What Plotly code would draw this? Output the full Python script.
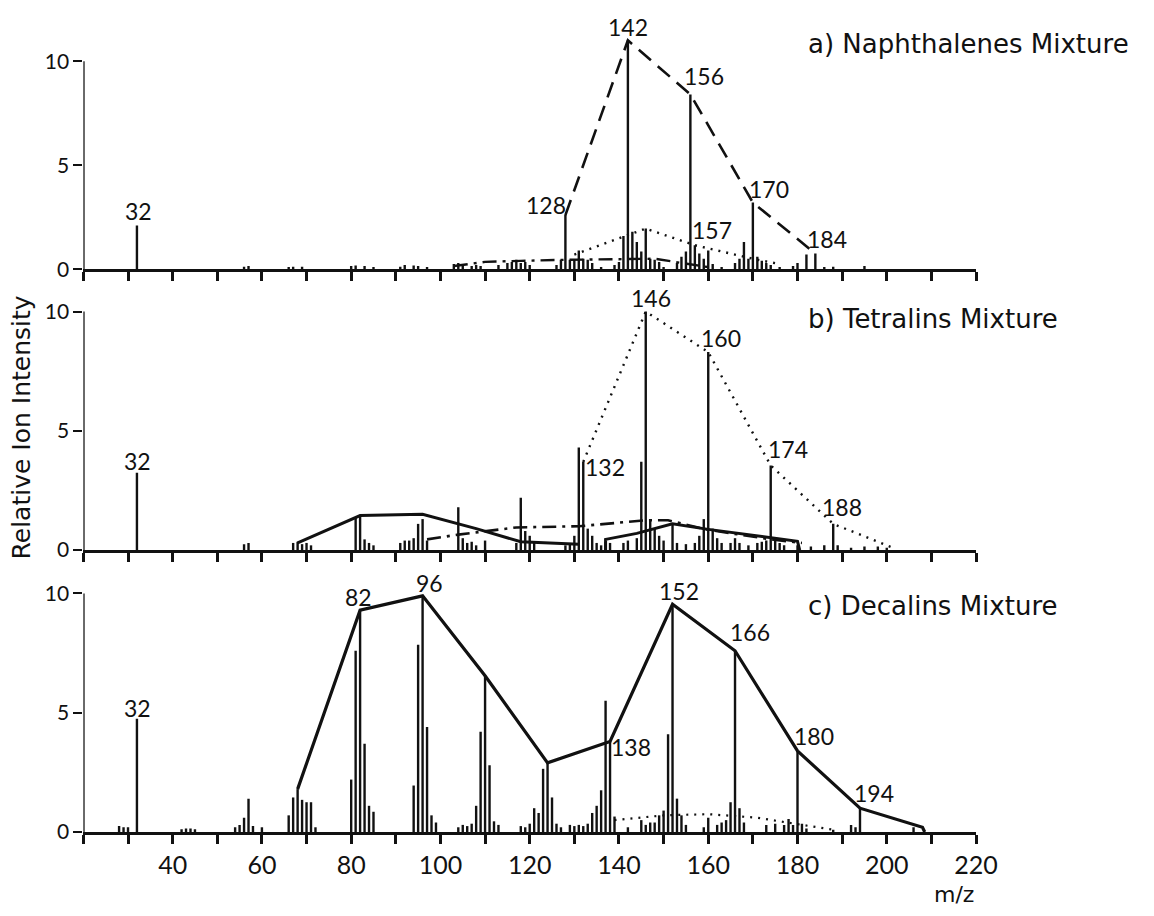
import plotly.graph_objects as go

# ---------------- data ----------------
# a) Naphthalenes mixture: m/z and relative ion intensity of every line
a_mz = [32, 56, 57, 66, 67, 69, 80, 81, 83, 85, 91, 92, 94, 95, 97, 103, 104, 105, 107, 108, 109,
        113, 115, 116, 117, 118, 119, 120, 126, 127, 128, 129, 130, 131, 132, 133, 134, 136,
        139, 140, 141, 142, 143, 144, 145, 146, 147, 148, 149, 150, 153, 154, 155, 156, 157,
        158, 159, 160, 161, 163, 166, 167, 168, 169, 170, 171, 172, 173, 174, 176, 179, 180,
        182, 184, 186, 188, 195]
a_int = [2.1, 0.12, 0.15, 0.1, 0.12, 0.12, 0.15, 0.18, 0.15, 0.1, 0.12, 0.2, 0.18, 0.15, 0.1,
         0.25, 0.3, 0.2, 0.15, 0.2, 0.15, 0.2, 0.3, 0.35, 0.45, 0.3, 0.35, 0.2, 0.2, 0.45, 2.6,
         0.45, 0.45, 0.9, 0.5, 0.45, 0.3, 0.1, 0.2, 0.35, 1.6, 11.0, 1.8, 1.3, 0.85, 1.95, 0.5,
         0.45, 0.35, 0.1, 0.3, 0.6, 0.85, 8.4, 1.15, 0.75, 0.5, 0.9, 0.25, 0.1, 0.3, 0.5, 1.3,
         0.5, 3.2, 0.6, 0.4, 0.3, 0.2, 0.1, 0.15, 0.3, 0.7, 0.75, 0.1, 0.12, 0.15]
a_naph_mz = [128, 142, 156, 170, 184]
a_naph_int = [2.6, 11.0, 8.4, 3.2, 0.75]
a_tetr_mz = [130, 146, 157, 171, 176]
a_tetr_int = [0.7, 1.95, 1.15, 0.45, 0.25]
a_other_mz = [103, 110, 118, 128, 148, 160]
a_other_int = [0.15, 0.35, 0.4, 0.45, 0.5, 0.1]

# b) Tetralins mixture
b_mz = [32, 56, 57, 67, 68, 69, 70, 71, 81, 82, 83, 84, 85, 91, 92, 93, 94, 95, 96, 97,
        104, 105, 106, 107, 108, 110, 117, 118, 119, 120, 121, 128, 129, 130, 131, 132, 133,
        134, 135, 136, 137, 138, 141, 142, 144, 145, 146, 147, 148, 149, 150, 152, 153, 155,
        157, 158, 159, 160, 161, 162, 163, 165, 166, 167, 169, 171, 172, 173, 174, 175, 176,
        177, 180, 183, 186, 188, 189, 192, 195, 198, 200]
b_int = [3.24, 0.25, 0.3, 0.3, 0.35, 0.25, 0.3, 0.2, 1.35, 1.4, 0.45, 0.3, 0.2, 0.3, 0.4,
         0.4, 0.5, 1.1, 1.3, 0.4, 1.8, 0.5, 0.3, 0.35, 0.2, 0.4, 0.3, 2.2, 0.8, 0.6, 0.3, 0.2,
         0.3, 0.6, 4.3, 3.7, 0.9, 0.6, 0.3, 0.2, 0.35, 0.3, 0.3, 0.4, 0.5, 3.7, 10.0, 1.3, 0.9,
         0.6, 0.4, 1.1, 0.3, 0.25, 0.3, 0.6, 1.3, 8.3, 0.9, 0.5, 0.3, 0.3, 0.5, 0.3, 0.2, 0.3,
         0.35, 0.4, 3.55, 0.5, 0.3, 0.2, 0.2, 0.15, 0.2, 1.1, 0.2, 0.1, 0.15, 0.15, 0.1]
b_tetr_mz = [132, 146, 160, 174, 188, 202]
b_tetr_int = [3.7, 10.0, 8.3, 3.55, 1.1, 0.05]
b_dec1_mz = [68, 82, 96, 108, 118, 131]
b_dec1_int = [0.3, 1.45, 1.5, 0.9, 0.35, 0.25]
b_dec2_mz = [137, 137, 144, 152, 160, 174, 180, 180.5]
b_dec2_int = [0.0, 0.45, 0.7, 1.1, 0.87, 0.5, 0.37, 0.0]
b_naph_mz = [97, 104, 117, 131, 146, 151, 160, 174, 181]
b_naph_int = [0.45, 0.65, 0.95, 1.0, 1.25, 1.25, 0.85, 0.45, 0.3]

# c) Decalins mixture
c_mz = [28, 29, 30, 32, 42, 43, 44, 45, 54, 55, 56, 57, 58, 60, 66, 67, 68, 69, 70, 71, 72,
        80, 81, 82, 83, 84, 85, 94, 95, 96, 97, 98, 99, 104, 105, 106, 107, 108, 109, 110,
        111, 112, 113, 118, 119, 120, 121, 122, 123, 124, 125, 126, 127, 129, 130, 131, 132,
        133, 134, 135, 136, 137, 138, 139, 142, 145, 146, 147, 148, 149, 150, 151, 152, 153,
        154, 155, 159, 160, 162, 163, 164, 165, 166, 167, 168, 173, 175, 177, 178, 179, 180,
        181, 182, 188, 192, 193, 194, 206]
c_int = [0.25, 0.2, 0.2, 4.75, 0.12, 0.15, 0.15, 0.12, 0.2, 0.3, 0.6, 1.4, 0.25, 0.2, 0.7,
         1.45, 1.8, 1.35, 1.25, 1.25, 0.2, 2.2, 7.6, 9.3, 3.7, 1.1, 0.85, 1.95, 7.85, 9.9, 4.4,
         0.7, 0.4, 0.2, 0.3, 0.25, 0.35, 1.1, 4.2, 6.55, 2.8, 0.45, 0.3, 0.25, 0.2, 0.35, 1.0,
         0.8, 2.65, 2.9, 1.45, 0.35, 0.2, 0.3, 0.25, 0.3, 0.25, 0.35, 0.8, 1.1, 1.75, 5.5, 3.8,
         0.65, 0.2, 0.5, 0.3, 0.4, 0.4, 0.7, 0.9, 4.1, 9.55, 1.4, 0.7, 0.3, 0.2, 0.6, 0.3, 0.4,
         0.5, 1.25, 7.6, 1.0, 0.4, 0.3, 0.35, 0.3, 0.55, 0.3, 3.4, 0.35, 0.15, 0.1, 0.3, 0.2,
         1.0, 0.2]
c_dec_mz = [68, 82, 96, 110, 124, 138, 152, 166, 180, 194, 208, 208.5]
c_dec_int = [1.8, 9.3, 9.9, 6.55, 2.9, 3.8, 9.55, 7.6, 3.4, 1.0, 0.2, 0.0]
c_tetr_mz = [139, 150, 160, 171, 181, 188]
c_tetr_int = [0.5, 0.7, 0.75, 0.6, 0.3, 0.1]

x_ticks = list(range(20, 230, 10))
x_tick_text = ["" if (v == 20 or v % 20) else str(v) for v in x_ticks]
y_ticks = [0, 5, 10]
panel_titles = ["a) Naphthalenes Mixture", "b) Tetralins Mixture", "c) Decalins Mixture"]

# peak labels: (m/z, intensity, pixel offset of the label from the line top)
a_labels = [(32, 2.1, 2, -14), (128, 2.6, -19, -10), (142, 11.0, 0, -13), (156, 8.4, 14, -18),
            (157, 1.15, 17, -15), (170, 3.2, 16, -14), (184, 0.75, 12, -15)]
b_labels = [(32, 3.24, 1, -12), (132, 3.7, 22, 5), (146, 10.0, 5, -14), (160, 8.3, 13, -14),
            (174, 3.55, 17, -16), (188, 1.1, 9, -17)]
c_labels = [(32, 4.75, 1, -11), (82, 9.3, -2, -13), (96, 9.9, 7, -13), (138, 3.8, 21, 6),
            (152, 9.55, 6, -13), (166, 7.6, 15, -19), (180, 3.4, 17, -15), (194, 1.0, 14, -15)]

# ---------------- layout geometry (pixels) ----------------
W, H = 1154, 916
NUM_FONT = "Lato, 'DejaVu Sans', sans-serif"
TEXT_FONT = "'DejaVu Sans', Lato, sans-serif"
X_LEFT, X_RIGHT = 85, 995
# per panel: pixel row of zero, pixels per unit, top of the y range
geom = [(271, 21.1, 11.6), (556, 24.2, 10.8), (842, 24.2, 10.5)]
title_y = [43, 322, 613]


def stems(mz, inten):
    xs, ys = [], []
    for m, v in zip(mz, inten):
        xs += [m, m, None]
        ys += [0, v, None]
    return xs, ys


fig = go.Figure()
BLACK = "#111111"

panels = [
    (a_mz, a_int, [(a_naph_mz, a_naph_int, "16px,9px", 2.6),
                   (a_tetr_mz, a_tetr_int, "2px,6px", 2.4),
                   (a_other_mz, a_other_int, "14px,6px,3px,6px", 2.4)], a_labels),
    (b_mz, b_int, [(b_tetr_mz, b_tetr_int, "2px,6px", 2.4),
                   (b_dec1_mz, b_dec1_int, "solid", 3.0),
                   (b_dec2_mz, b_dec2_int, "solid", 3.0),
                   (b_naph_mz, b_naph_int, "14px,6px,3px,6px", 2.6)], b_labels),
    (c_mz, c_int, [(c_dec_mz, c_dec_int, "solid", 3.2),
                   (c_tetr_mz, c_tetr_int, "2px,6px", 2.2)], c_labels),
]

annotations = []
shapes = []
for i, (mz, inten, envelopes, labels) in enumerate(panels):
    n = "" if i == 0 else str(i + 1)
    xa, ya = "x" + n, "y" + n
    zero, per, top = geom[i]
    xs, ys = stems(mz, inten)
    fig.add_trace(go.Scatter(x=xs, y=ys, mode="lines", xaxis=xa, yaxis=ya,
                             line=dict(color=BLACK, width=2.4), hoverinfo="skip",
                             showlegend=False))
    for emz, eint, dash, w in envelopes:
        fig.add_trace(go.Scatter(x=emz, y=eint, mode="lines", xaxis=xa, yaxis=ya,
                                 line=dict(color=BLACK, width=w, dash=dash),
                                 hoverinfo="skip", showlegend=False))
    for m, v, dx, dy in labels:
        annotations.append(dict(x=m, y=v, xref=xa, yref=ya, text=str(m), showarrow=False,
                                xanchor="center", yanchor="middle", xshift=dx, yshift=-dy,
                                font=dict(family=NUM_FONT, size=23, color=BLACK)))
    annotations.append(dict(x=822 / W, y=1 - title_y[i] / H, xref="paper", yref="paper",
                            text=panel_titles[i], showarrow=False, xanchor="left",
                            yanchor="middle",
                            font=dict(family=TEXT_FONT, size=26, color=BLACK)))
    # vertical axis line drawn only from 0 to 10
    shapes.append(dict(type="line", xref=xa, yref=ya, x0=20, x1=20, y0=0, y1=10,
                       line=dict(color=BLACK, width=2.5)))

    y_dom = [1 - zero / H, 1 - (zero - top * per) / H]
    fig.layout["xaxis" + n] = dict(
        domain=[X_LEFT / W, X_RIGHT / W], range=[20, 220], anchor=ya,
        showline=True, linecolor=BLACK, linewidth=2.5, showgrid=False, zeroline=False,
        ticks="outside", ticklen=9, tickwidth=2.5, tickcolor=BLACK,
        tickvals=x_ticks, ticktext=x_tick_text if i == 2 else [""] * len(x_ticks),
        tickfont=dict(family=NUM_FONT, size=25, color=BLACK),
    )
    fig.layout["yaxis" + n] = dict(
        domain=y_dom, range=[0, top], anchor=xa, showline=False, showgrid=False,
        zeroline=False, ticks="outside", ticklen=9, tickwidth=2.2, tickcolor=BLACK,
        tickvals=y_ticks, ticktext=[str(v) for v in y_ticks],
        tickfont=dict(family=NUM_FONT, size=21, color=BLACK),
    )

annotations.append(dict(x=22 / W, y=1 - 432 / H, xref="paper", yref="paper",
                        text="Relative Ion Intensity", textangle=-90, showarrow=False,
                        xanchor="center", yanchor="middle",
                        font=dict(family=TEXT_FONT, size=25, color=BLACK)))
annotations.append(dict(x=973 / W, y=1 - 905 / H, xref="paper", yref="paper",
                        text="m/z", showarrow=False, xanchor="center", yanchor="middle",
                        font=dict(family=TEXT_FONT, size=22, color=BLACK)))

fig.update_layout(width=W, height=H, margin=dict(l=0, r=0, t=0, b=0),
                  paper_bgcolor="white", plot_bgcolor="white",
                  annotations=annotations, shapes=shapes, showlegend=False)

# keep the page exactly the size of the figure
page_css = ("document.body.style.margin='0';document.body.style.padding='0';"
            "document.body.style.overflow='hidden';")
fig.write_html("out.html", post_script=page_css)
